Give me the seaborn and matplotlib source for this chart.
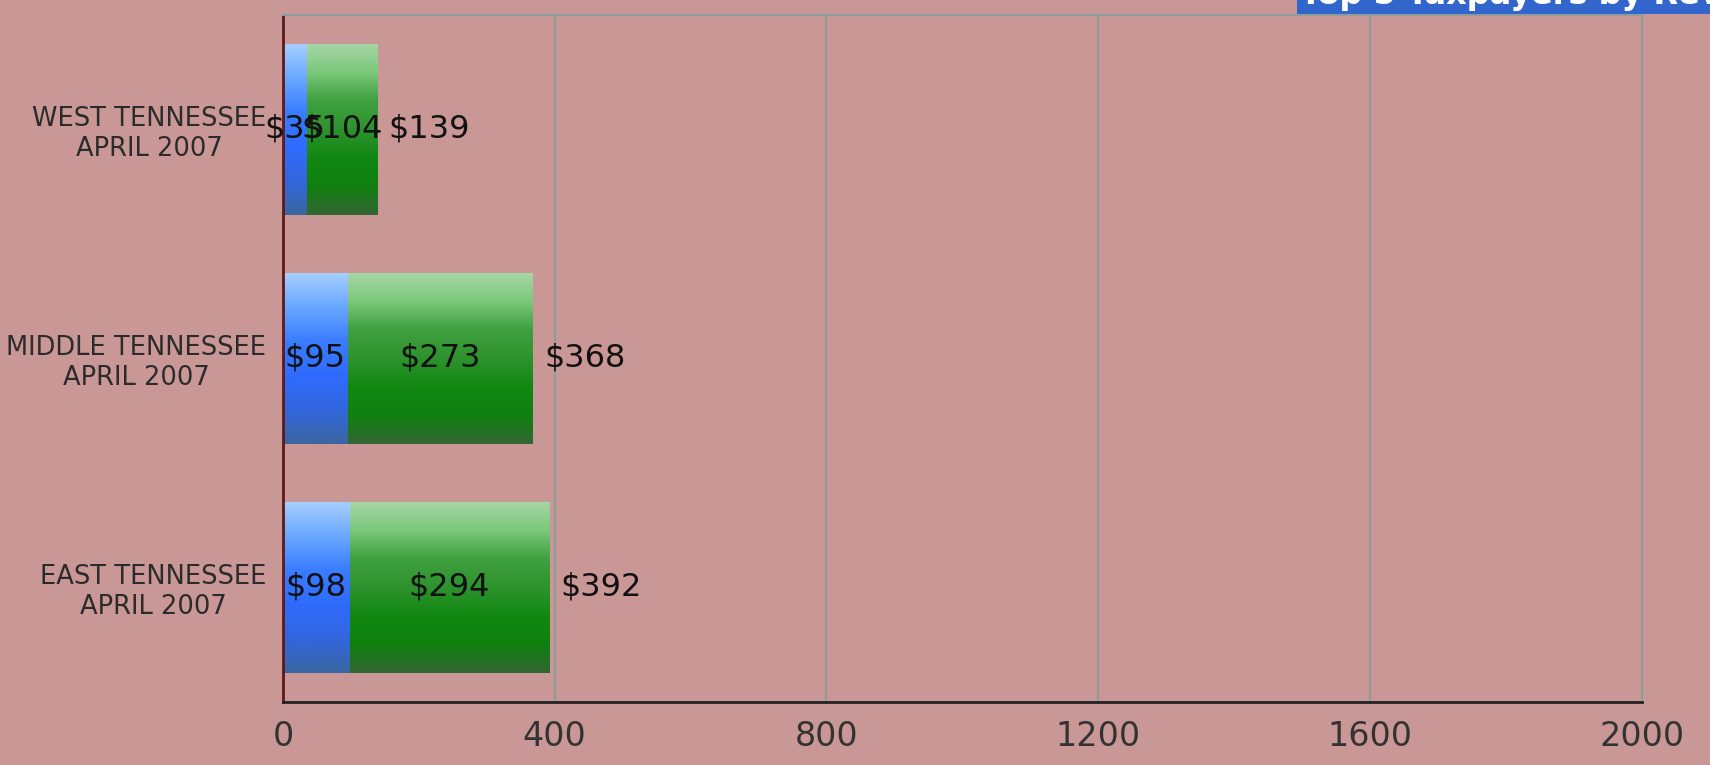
#!/usr/bin/env python3
import numpy as np
import pandas as pd
import seaborn as sns
import matplotlib.pyplot as plt
from matplotlib.colors import LinearSegmentedColormap

# values (top to bottom)
regions = ['WEST TENNESSEE\nAPRIL 2007', 'MIDDLE TENNESSEE\nAPRIL 2007', 'EAST TENNESSEE\nAPRIL 2007']
first_vals = [35, 95, 98]
second_vals = [104, 273, 294]
totals = [139, 368, 392]
xticks = [0, 400, 800, 1200, 1600, 2000]

bg = '#C99795'

df = pd.DataFrame({'region': regions, 'first': first_vals,
                   'second': second_vals, 'total': totals})

sns.set_theme(style='white')
plt.rcParams['font.family'] = ['DejaVu Sans']

fig = plt.figure(figsize=(17.1, 7.65), dpi=100, facecolor=bg)
ax = fig.add_axes([0.1655, 0.0824, 0.7945, 0.8980])
ax.set_facecolor(bg)

# stacked look: full total bar in green, first part drawn over it in blue
sns.barplot(data=df, y='region', x='total', orient='h', color='#2E8B2E',
            width=0.75, saturation=1, linewidth=0, ax=ax)
sns.barplot(data=df, y='region', x='first', orient='h', color='#3377FF',
            width=0.75, saturation=1, linewidth=0, ax=ax)

green_cmap = LinearSegmentedColormap.from_list(
    'g', ['#A8D6A8', '#7CC87C', '#3FA03F', '#2E932E', '#118811', '#0F800F', '#336633'])
blue_cmap = LinearSegmentedColormap.from_list(
    'b', ['#A8D0FF', '#6AA8FF', '#3A7DFF', '#2F6BFF', '#3366DD', '#3A66A0'])
grad = np.linspace(0, 1, 256).reshape(-1, 1)

for cont, cmap in zip(ax.containers[:2], [green_cmap, blue_cmap]):
    for p in cont.patches:
        x0, y0 = p.get_x(), p.get_y()
        w, h = p.get_width(), p.get_height()
        im = ax.imshow(grad, cmap=cmap, aspect='auto',
                       extent=(x0, x0 + w, y0 + h, y0), zorder=p.get_zorder() + 0.1)
        im.set_clip_path(p)

ax.set_xlim(0, 2000)
ax.set_ylim(2.5, -0.5)
ax.set_xticks(xticks)
ax.set_xticklabels([str(t) for t in xticks])
ax.set_xlabel('')
ax.set_ylabel('')

ax.grid(axis='x', color='#8E9C9C', linewidth=1.5)
ax.set_axisbelow(True)
ax.tick_params(axis='x', length=0, pad=13, labelsize=24, labelcolor='#333333')
ax.tick_params(axis='y', length=0, pad=12, labelsize=18.5, labelcolor='#2B2B2B')
for lab in ax.get_yticklabels():
    lab.set_multialignment('center')

for side in ['top', 'right']:
    ax.spines[side].set_color('#8E9C9C')
    ax.spines[side].set_linewidth(1.5)
ax.spines['left'].set_color('#5A1A1A')
ax.spines['left'].set_linewidth(2)
ax.spines['bottom'].set_color('#222222')
ax.spines['bottom'].set_linewidth(2)

# value labels
for i in range(len(regions)):
    a, b, t = first_vals[i], second_vals[i], totals[i]
    ax.text(a / 2, i, '$' + str(a), ha='center', va='center', fontsize=23, color='#111111', zorder=10)
    ax.text(a + b / 2, i, '$' + str(b), ha='center', va='center', fontsize=23, color='#111111', zorder=10)
    ax.annotate('$' + str(t), xy=(t, i), xytext=(8, 0), textcoords='offset points',
                ha='left', va='center', fontsize=23, color='#111111', zorder=10)

# header strip cut off at the top edge
fig.text(1300 / 1710, 1 - 11 / 765, 'Top 5 Taxpayers by Revenue', ha='left', va='bottom',
         fontsize=23, fontweight='bold', color='white',
         bbox=dict(boxstyle='square,pad=0.1', fc='#3366CC', ec='none'))

fig.savefig('out.png', dpi=100, facecolor=bg)
